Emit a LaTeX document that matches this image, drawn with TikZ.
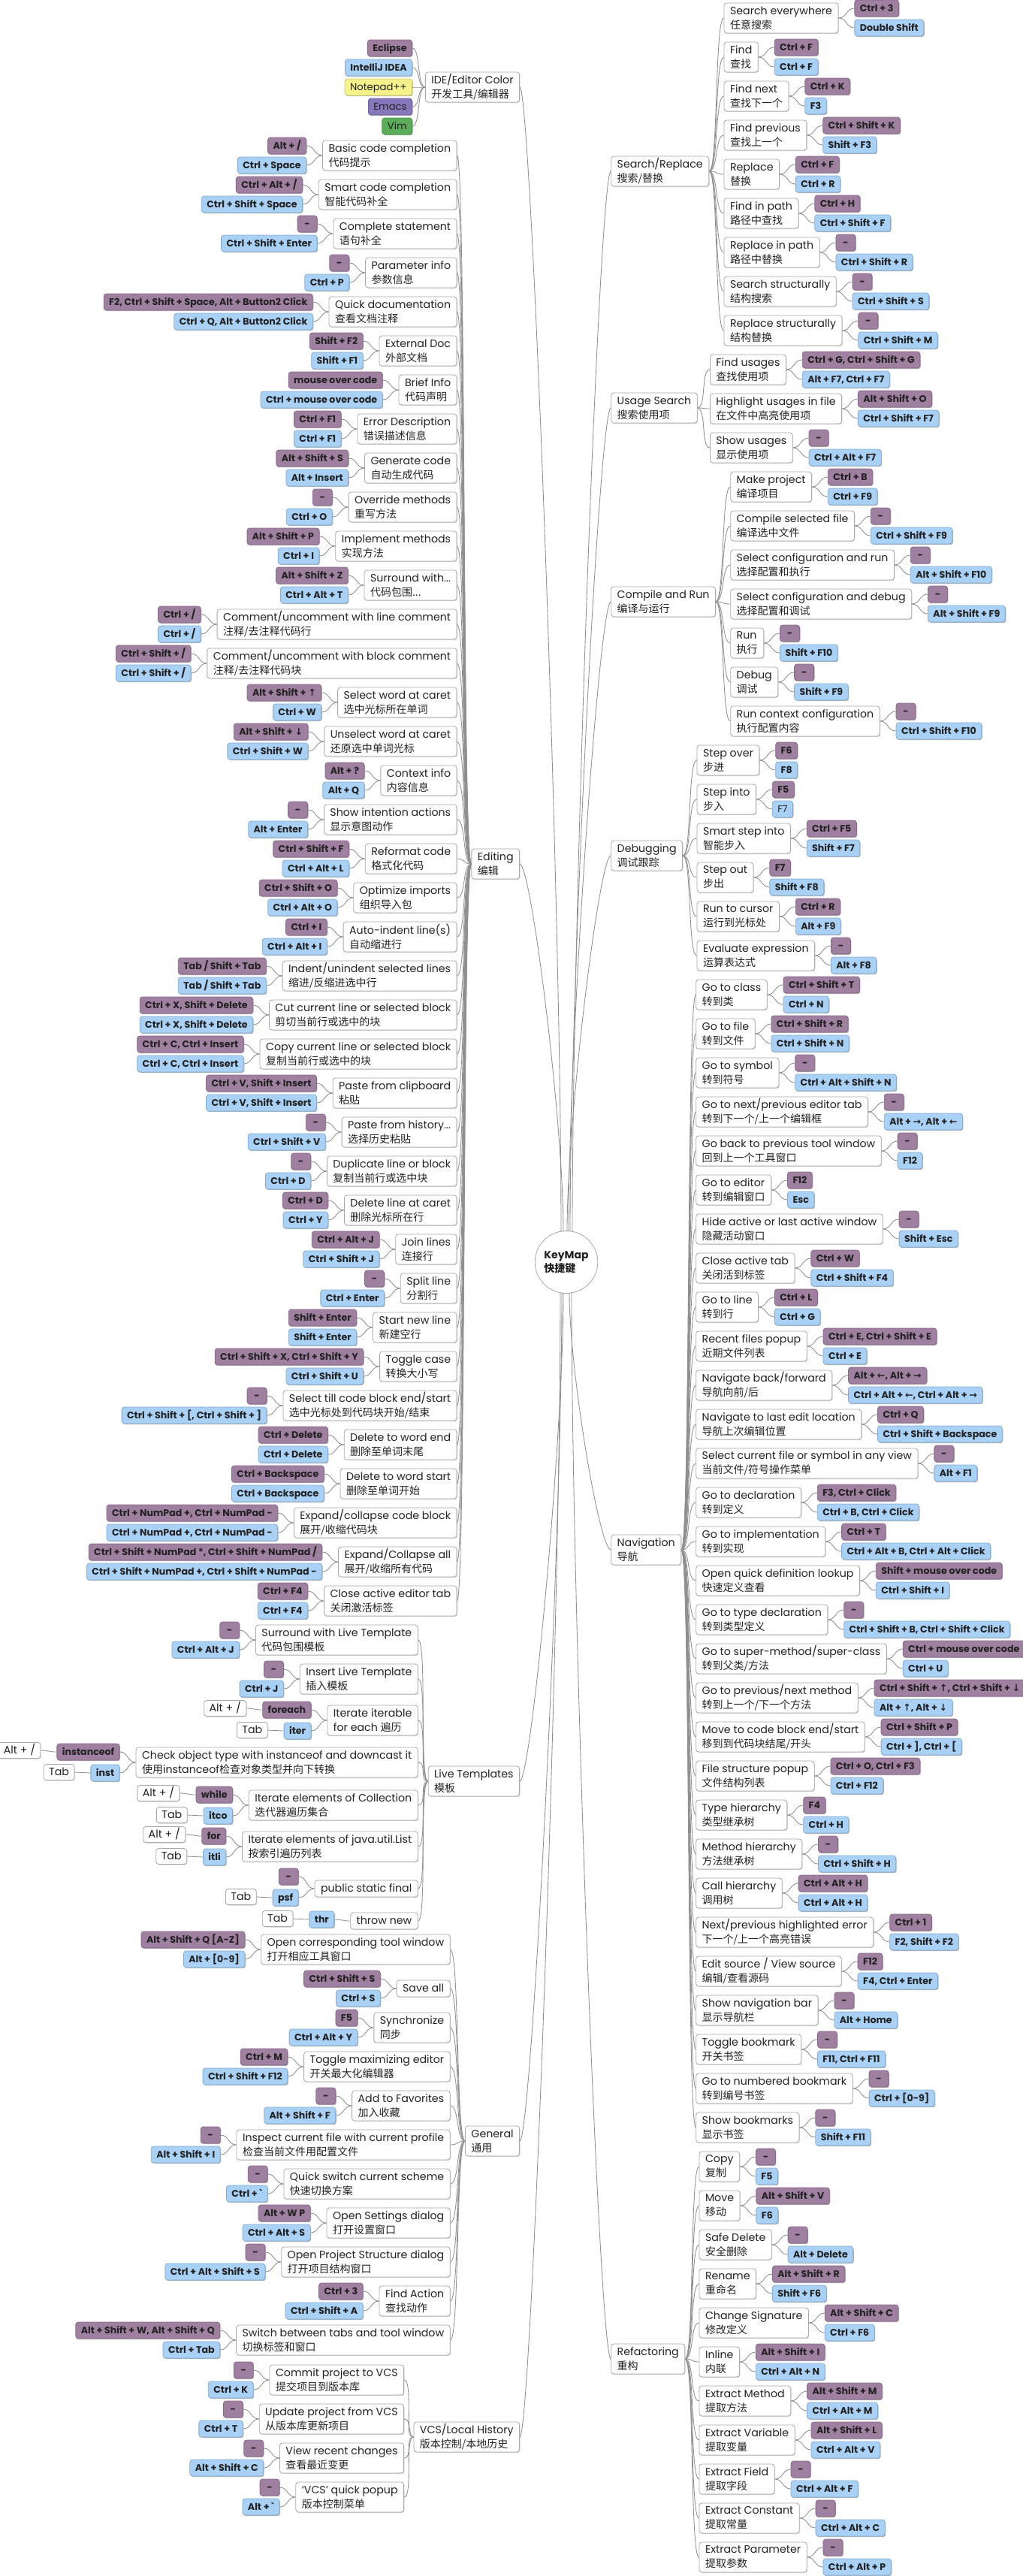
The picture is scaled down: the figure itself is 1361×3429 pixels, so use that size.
\documentclass[tikz,border=0pt]{standalone}
\usepackage{fontspec}
\setmainfont{Poppins}
\newfontfamily\cjk{Noto Sans CJK SC}
\newfontfamily\dvs{DejaVu Sans}
\usetikzlibrary{calc,shapes.geometric,shadows}
\definecolor{kpur}{HTML}{A080A0}
\definecolor{kpurd}{HTML}{86688A}
\definecolor{kblu}{HTML}{A9D0F5}
\definecolor{kblud}{HTML}{84ACD2}
\definecolor{kyel}{HTML}{F5F28C}
\definecolor{kyeld}{HTML}{CFCB6A}
\definecolor{kemc}{HTML}{8577B9}
\definecolor{kemcd}{HTML}{6A5E9E}
\definecolor{kvim}{HTML}{5CAD59}
\definecolor{kvimd}{HTML}{448F42}
\definecolor{itb}{HTML}{A8A8A8}
\definecolor{lnc}{HTML}{8F8F8F}
\definecolor{txt}{HTML}{222222}
\newcommand\itfont{\fontsize{14.2}{19}\selectfont}
\newcommand\kfont{\fontsize{12.6}{15}\selectfont\bfseries}
\newcommand\kfontr{\fontsize{13.2}{15}\selectfont}
\newcommand\zh[1]{{\cjk\fontsize{14}{19}\selectfont #1}}
\newcommand\arU{{\dvs ↑}}
\newcommand\arD{{\dvs ↓}}
\newcommand\arL{{\dvs ←}}
\newcommand\arR{{\dvs →}}
\newcommand\LX{0}
\newcommand\RX{0}
% left item: cat, name, y, en, zh, purple, blue
\newcommand{\LI}[7]{%
  \node[itm, anchor=east] (#2) at (\LX,#3) {#4\\\zh{#5}};
  \node[kp, anchor=east] (#2p) at ($(#2.west)+(-21,-13)$) {#6};
  \node[kb, anchor=east] (#2b) at ($(#2.west)+(-21,13)$) {#7};
  \draw[ln] (#2.west) .. controls +(-11,0) and +(11,0) .. (#2p.east);
  \draw[ln] (#2.west) .. controls +(-11,0) and +(11,0) .. (#2b.east);
  \draw[ln] (#2.east) .. controls +(12,0) and +(-12,0) .. (#1.west);
}
\newcommand{\LIs}[6]{%
  \node[itm1, anchor=east] (#2) at (\LX,#3) {#4};
  \node[kp, anchor=east] (#2p) at ($(#2.west)+(-21,-13)$) {#5};
  \node[kb, anchor=east] (#2b) at ($(#2.west)+(-21,13)$) {#6};
  \draw[ln] (#2.west) .. controls +(-11,0) and +(11,0) .. (#2p.east);
  \draw[ln] (#2.west) .. controls +(-11,0) and +(11,0) .. (#2b.east);
  \draw[ln] (#2.east) .. controls +(12,0) and +(-12,0) .. (#1.west);
}
% right item
\newcommand{\RI}[7]{%
  \node[itm, anchor=west] (#2) at (\RX,#3) {#4\\\zh{#5}};
  \node[kp, anchor=west] (#2p) at ($(#2.east)+(21,-13)$) {#6};
  \node[kb, anchor=west] (#2b) at ($(#2.east)+(21,13)$) {#7};
  \draw[ln] (#2.east) .. controls +(11,0) and +(-11,0) .. (#2p.west);
  \draw[ln] (#2.east) .. controls +(11,0) and +(-11,0) .. (#2b.west);
  \draw[ln] (#2.west) .. controls +(-12,0) and +(12,0) .. (#1.east);
}
% live template with white boxes
\newcommand{\LW}[6]{%
  \node[itm, anchor=east] (#1) at (\LX,#2) {#3\\#4};
  \node[kp, anchor=east] (#1p) at ($(#1.west)+(-21,-14)$) {#5};
  \node[kb, anchor=east] (#1b) at ($(#1.west)+(-21,14)$) {#6};
  \node[wk, anchor=east] (#1pw) at ($(#1p.west)+(-21,-2)$) {Alt + /};
  \node[wk, anchor=east] (#1bw) at ($(#1b.west)+(-21,-1)$) {Tab};
  \draw[ln] (#1.west) .. controls +(-11,0) and +(11,0) .. (#1p.east);
  \draw[ln] (#1.west) .. controls +(-11,0) and +(11,0) .. (#1b.east);
  \draw[ln] (#1pw.east) .. controls +(11,0) and +(-11,0) .. (#1p.west);
  \draw[ln] (#1bw.east) .. controls +(11,0) and +(-11,0) .. (#1b.west);
  \draw[ln] (#1.east) .. controls +(12,0) and +(-12,0) .. (lt.west);
}
\tikzset{
  ln/.style={draw=lnc, line width=0.85pt},
  box/.style={rounded corners=3.5pt, line width=0.8pt},
  itm/.style={box, draw=itb, fill=white, align=left, font=\itfont, text=txt, inner xsep=8pt, inner ysep=2pt, minimum height=40pt,
    drop shadow={shadow xshift=0.8pt, shadow yshift=-1pt, opacity=0.18, fill=black}},
  itm1/.style={itm, minimum height=22pt, inner ysep=1pt, text height=11pt, text depth=3pt},
  key/.style={box, font=\kfont, text=txt, inner xsep=7pt, inner ysep=0pt, minimum height=22pt, minimum width=26pt, text height=11pt, text depth=2pt,
    drop shadow={shadow xshift=1pt, shadow yshift=-1.2pt, opacity=0.3, fill=black}},
  kp/.style={key, fill=kpur, draw=kpurd},
  kb/.style={key, fill=kblu, draw=kblud},
  wk/.style={box, draw=itb, fill=white, font=\itfont, text=txt, inner xsep=7pt, inner ysep=0pt, minimum height=21pt, text height=11pt, text depth=2pt,
    drop shadow={shadow xshift=0.8pt, shadow yshift=-1pt, opacity=0.18, fill=black}},
}
\begin{document}
\begin{tikzpicture}[x=1pt,y=-1pt]
\fill[white] (0,0) rectangle (1361,3429);
\useasboundingbox (0,0) rectangle (1361,3429);

% root
\node[draw=itb, fill=white, ellipse, line width=0.8pt, minimum width=78pt, minimum height=83pt, inner sep=0pt, align=left, text=txt,
  font=\fontsize{14}{18}\selectfont\bfseries] (root) at (754,1680) {KeyMap\\{\cjk 快捷键}};

% categories
\node[itm, anchor=east, minimum width=121pt] (ide) at (692,116) {IDE/Editor Color\\\zh{开发工具/编辑器}};
\node[itm, anchor=east, minimum width=63pt] (ed) at (692,1150) {Editing\\\zh{编辑}};
\node[itm, anchor=east, minimum width=114pt] (lt) at (692,2371) {Live Templates\\\zh{模板}};
\node[itm, anchor=east, minimum width=71pt] (gen) at (692,2850) {General\\\zh{通用}};
\node[itm, anchor=east, minimum width=133pt] (vcs) at (692,3244) {VCS/Local History\\\zh{版本控制/本地历史}};
\node[itm, anchor=west, minimum width=128.6pt] (sr) at (813.3,228) {Search/Replace\\\zh{搜索/替换}};
\node[itm, anchor=west, minimum width=108.6pt] (us) at (813.3,543) {Usage Search\\\zh{搜索使用项}};
\node[itm, anchor=west, minimum width=137.3pt] (cr) at (813.3,801) {Compile and Run\\\zh{编译与运行}};
\node[itm, anchor=west, minimum width=92.5pt] (dbg) at (813.3,1139) {Debugging\\\zh{调试跟踪}};
\node[itm, anchor=west, minimum width=91.2pt] (nav) at (813.3,2063) {Navigation\\\zh{导航}};
\node[itm, anchor=west, minimum width=95.6pt] (ref) at (813.3,3140) {Refactoring\\\zh{重构}};

% root connectors
\draw[ln] (ide.east) .. controls (707,116) and (747,1183) .. (747,1640);
\draw[ln] (ed.east) .. controls (707,1150) and (750,1492) .. (750,1639);
\draw[ln] (sr.west) .. controls (798,228) and (762,1216) .. (762,1640);
\draw[ln] (us.west) .. controls (798,543) and (759,1310) .. (759,1639);
\draw[ln] (cr.west) .. controls (798,801) and (757,1388) .. (757,1639);
\draw[ln] (dbg.west) .. controls (798,1139) and (755,1489) .. (755,1639);
\draw[ln] (lt.east) .. controls (707,2371) and (750,1916) .. (750,1721);
\draw[ln] (gen.east) .. controls (707,2850) and (748,2060) .. (748,1721);
\draw[ln] (vcs.east) .. controls (707,3244) and (746,2177) .. (746,1720);
\draw[ln] (nav.west) .. controls (798,2063) and (758,1824) .. (758,1721);
\draw[ln] (ref.west) .. controls (798,3140) and (761,2146) .. (761,1720);

% IDE colors
\node[kp, anchor=east] (ik1) at (549,64) {Eclipse};
\node[kb, anchor=east] (ik2) at (549,90) {IntelliJ IDEA};
\node[key, fill=kyel, draw=kyeld, anchor=east, font=\kfontr] (ik3) at (549,116) {Notepad++};
\node[key, fill=kemc, draw=kemcd, anchor=east, font=\kfontr] (ik4) at (549,142) {Emacs};
\node[key, fill=kvim, draw=kvimd, anchor=east, font=\kfontr] (ik5) at (549,168) {Vim};
\foreach \k in {ik1,ik2,ik3,ik4,ik5}{\draw[ln] (\k.east) .. controls +(11,0) and +(-11,0) .. (ide.west);}

% Editing
\renewcommand\LX{608.5}
\LI{ed}{e1}{207}{Basic code completion}{代码提示}{Alt + /}{Ctrl + Space}
\LI{ed}{e2}{259}{Smart code completion}{智能代码补全}{Ctrl + Alt + /}{Ctrl + Shift + Space}
\LI{ed}{e3}{311}{Complete statement}{语句补全}{-}{Ctrl + Shift + Enter}
\LI{ed}{e4}{363}{Parameter info}{参数信息}{-}{Ctrl + P}
\LI{ed}{e5}{415}{Quick documentation}{查看文档注释}{F2, Ctrl + Shift + Space, Alt + Button2 Click}{Ctrl + Q, Alt + Button2 Click}
\LI{ed}{e6}{467}{External Doc}{外部文档}{Shift + F2}{Shift + F1}
\LI{ed}{e7}{519}{Brief Info}{代码声明}{mouse over code}{Ctrl + mouse over code}
\LI{ed}{e8}{571}{Error Description}{错误描述信息}{Ctrl + F1}{Ctrl + F1}
\LI{ed}{e9}{623}{Generate code}{自动生成代码}{Alt + Shift + S}{Alt + Insert}
\LI{ed}{e10}{675}{Override methods}{重写方法}{-}{Ctrl + O}
\LI{ed}{e11}{727}{Implement methods}{实现方法}{Alt + Shift + P}{Ctrl + I}
\LI{ed}{e12}{779}{Surround with...}{代码包围...}{Alt + Shift + Z}{Ctrl + Alt + T}
\LI{ed}{e13}{831}{Comment/uncomment with line comment}{注释/去注释代码行}{Ctrl + /}{Ctrl + /}
\LI{ed}{e14}{883}{Comment/uncomment with block comment}{注释/去注释代码块}{Ctrl + Shift + /}{Ctrl + Shift + /}
\LI{ed}{e15}{935}{Select word at caret}{选中光标所在单词}{Alt + Shift + \arU}{Ctrl + W}
\LI{ed}{e16}{987}{Unselect word at caret}{还原选中单词光标}{Alt + Shift + \arD}{Ctrl + Shift + W}
\LI{ed}{e17}{1039}{Context info}{内容信息}{Alt + ?}{Alt + Q}
\LI{ed}{e18}{1091}{Show intention actions}{显示意图动作}{-}{Alt + Enter}
\LI{ed}{e19}{1143}{Reformat code}{格式化代码}{Ctrl + Shift + F}{Ctrl + Alt + L}
\LI{ed}{e20}{1195}{Optimize imports}{组织导入包}{Ctrl + Shift + O}{Ctrl + Alt + O}
\LI{ed}{e21}{1247}{Auto-indent line(s)}{自动缩进行}{Ctrl + I}{Ctrl + Alt + I}
\LI{ed}{e22}{1299}{Indent/unindent selected lines}{缩进/反缩进选中行}{Tab / Shift + Tab}{Tab / Shift + Tab}
\LI{ed}{e23}{1351}{Cut current line or selected block}{剪切当前行或选中的块}{Ctrl + X, Shift + Delete}{Ctrl + X, Shift + Delete}
\LI{ed}{e24}{1403}{Copy current line or selected block}{复制当前行或选中的块}{Ctrl + C, Ctrl + Insert}{Ctrl + C, Ctrl + Insert}
\LI{ed}{e25}{1455}{Paste from clipboard}{粘贴}{Ctrl + V, Shift + Insert}{Ctrl + V, Shift + Insert}
\LI{ed}{e26}{1507}{Paste from history...}{选择历史粘贴}{-}{Ctrl + Shift + V}
\LI{ed}{e27}{1559}{Duplicate line or block}{复制当前行或选中块}{-}{Ctrl + D}
\LI{ed}{e28}{1611}{Delete line at caret}{删除光标所在行}{Ctrl + D}{Ctrl + Y}
\LI{ed}{e29}{1663}{Join lines}{连接行}{Ctrl + Alt + J}{Ctrl + Shift + J}
\LI{ed}{e30}{1715}{Split line}{分割行}{-}{Ctrl + Enter}
\LI{ed}{e31}{1767}{Start new line}{新建空行}{Shift + Enter}{Shift + Enter}
\LI{ed}{e32}{1819}{Toggle case}{转换大小写}{Ctrl + Shift + X, Ctrl + Shift + Y}{Ctrl + Shift + U}
\LI{ed}{e33}{1871}{Select till code block end/start}{选中光标处到代码块开始/结束}{-}{Ctrl + Shift + [, Ctrl + Shift + ]}
\LI{ed}{e34}{1923}{Delete to word end}{删除至单词末尾}{Ctrl + Delete}{Ctrl + Delete}
\LI{ed}{e35}{1975}{Delete to word start}{删除至单词开始}{Ctrl + Backspace}{Ctrl + Backspace}
\LI{ed}{e36}{2027}{Expand/collapse code block}{展开/收缩代码块}{Ctrl + NumPad +, Ctrl + NumPad -}{Ctrl + NumPad +, Ctrl + NumPad -}
\LI{ed}{e37}{2079}{Expand/Collapse all}{展开/收缩所有代码}{Ctrl + Shift + NumPad *, Ctrl + Shift + NumPad /}{Ctrl + Shift + NumPad +, Ctrl + Shift + NumPad -}
\LI{ed}{e38}{2131}{Close active editor tab}{关闭激活标签}{Ctrl + F4}{Ctrl + F4}

% Live Templates
\renewcommand\LX{556.7}
\LI{lt}{l1}{2183}{Surround with Live Template}{代码包围模板}{-}{Ctrl + Alt + J}
\LI{lt}{l2}{2235}{Insert Live Template}{插入模板}{-}{Ctrl + J}
\LW{l3}{2290}{Iterate iterable}{for each \zh{遍历}}{foreach}{iter}
\LW{l4}{2346}{Check object type with instanceof and downcast it}{\zh{使用}instanceof\zh{检查对象类型并向下转换}}{instanceof}{inst}
\LW{l5}{2403}{Iterate elements of Collection}{\zh{迭代器遍历集合}}{while}{itco}
\LW{l6}{2458}{Iterate elements of java.util.List}{\zh{按索引遍历列表}}{for}{itli}
\node[itm1, anchor=east] (l7) at (556.7,2514) {public static final};
\node[kp, anchor=east] (l7p) at ($(l7.west)+(-21,-16)$) {-};
\node[kb, anchor=east] (l7b) at ($(l7.west)+(-21,12)$) {psf};
\node[wk, anchor=east] (l7bw) at ($(l7b.west)+(-21,-1)$) {Tab};
\draw[ln] (l7.west) .. controls +(-11,0) and +(11,0) .. (l7p.east);
\draw[ln] (l7.west) .. controls +(-11,0) and +(11,0) .. (l7b.east);
\draw[ln] (l7bw.east) .. controls +(11,0) and +(-11,0) .. (l7b.west);
\draw[ln] (l7.east) .. controls +(12,0) and +(-12,0) .. (lt.west);
\node[itm1, anchor=east] (l8) at (556.7,2557) {throw new};
\node[kb, anchor=east] (l8b) at ($(l8.west)+(-21,-2)$) {thr};
\node[wk, anchor=east] (l8bw) at ($(l8b.west)+(-21,-1)$) {Tab};
\draw[ln] (l8.west) .. controls +(-11,0) and +(11,0) .. (l8b.east);
\draw[ln] (l8bw.east) .. controls +(11,0) and +(-11,0) .. (l8b.west);
\draw[ln] (l8.east) .. controls +(12,0) and +(-12,0) .. (lt.west);

% General
\renewcommand\LX{599.6}
\LI{gen}{g1}{2595}{Open corresponding tool window}{打开相应工具窗口}{Alt + Shift + Q [A-Z]}{Alt + [0-9]}
\LIs{gen}{g2}{2647}{Save all}{Ctrl + Shift + S}{Ctrl + S}
\LI{gen}{g3}{2699}{Synchronize}{同步}{F5}{Ctrl + Alt + Y}
\LI{gen}{g4}{2751}{Toggle maximizing editor}{开关最大化编辑器}{Ctrl + M}{Ctrl + Shift + F12}
\LI{gen}{g5}{2803}{Add to Favorites}{加入收藏}{-}{Alt + Shift + F}
\LI{gen}{g6}{2855}{Inspect current file with current profile}{检查当前文件用配置文件}{-}{Alt + Shift + I}
\LI{gen}{g7}{2907}{Quick switch current scheme}{快速切换方案}{-}{Ctrl + \textasciigrave}
\LI{gen}{g8}{2959}{Open Settings dialog}{打开设置窗口}{Alt + W P}{Ctrl + Alt + S}
\LI{gen}{g9}{3011}{Open Project Structure dialog}{打开项目结构窗口}{-}{Ctrl + Alt + Shift + S}
\LI{gen}{g10}{3063}{Find Action}{查找动作}{Ctrl + 3}{Ctrl + Shift + A}
\LI{gen}{g11}{3115}{Switch between tabs and tool window}{切换标签和窗口}{Alt + Shift + W, Alt + Shift + Q}{Ctrl + Tab}

% VCS
\renewcommand\LX{538}
\LI{vcs}{v1}{3168}{Commit project to VCS}{提交项目到版本库}{-}{Ctrl + K}
\LI{vcs}{v2}{3220}{Update project from VCS}{从版本库更新项目}{-}{Ctrl + T}
\LI{vcs}{v3}{3272}{View recent changes}{查看最近变更}{-}{Alt + Shift + C}
\LI{vcs}{v4}{3324}{`VCS' quick popup}{版本控制菜单}{-}{Alt + \textasciigrave}

% Search/Replace
\renewcommand\RX{963.6}
\RI{sr}{s1}{24}{Search everywhere}{任意搜索}{Ctrl + 3}{Double Shift}
\RI{sr}{s2}{76}{Find}{查找}{Ctrl + F}{Ctrl + F}
\RI{sr}{s3}{128}{Find next}{查找下一个}{Ctrl + K}{F3}
\RI{sr}{s4}{180}{Find previous}{查找上一个}{Ctrl + Shift + K}{Shift + F3}
\RI{sr}{s5}{232}{Replace}{替换}{Ctrl + F}{Ctrl + R}
\RI{sr}{s6}{284}{Find in path}{路径中查找}{Ctrl + H}{Ctrl + Shift + F}
\RI{sr}{s7}{336}{Replace in path}{路径中替换}{-}{Ctrl + Shift + R}
\RI{sr}{s8}{388}{Search structurally}{结构搜索}{-}{Ctrl + Shift + S}
\RI{sr}{s9}{440}{Replace structurally}{结构替换}{-}{Ctrl + Shift + M}

% Usage Search
\renewcommand\RX{945}
\RI{us}{u1}{492}{Find usages}{查找使用项}{Ctrl + G, Ctrl + Shift + G}{Alt + F7, Ctrl + F7}
\RI{us}{u2}{544}{Highlight usages in file}{在文件中高亮使用项}{Alt + Shift + O}{Ctrl + Shift + F7}
\RI{us}{u3}{596}{Show usages}{显示使用项}{-}{Ctrl + Alt + F7}

% Compile and Run
\renewcommand\RX{972.3}
\RI{cr}{c1}{648}{Make project}{编译项目}{Ctrl + B}{Ctrl + F9}
\RI{cr}{c2}{700}{Compile selected file}{编译选中文件}{-}{Ctrl + Shift + F9}
\RI{cr}{c3}{752}{Select configuration and run}{选择配置和执行}{-}{Alt + Shift + F10}
\RI{cr}{c4}{804}{Select configuration and debug}{选择配置和调试}{-}{Alt + Shift + F9}
\RI{cr}{c5}{856}{Run}{执行}{-}{Shift + F10}
\RI{cr}{c6}{908}{Debug}{调试}{-}{Shift + F9}
\RI{cr}{c7}{960}{Run context configuration}{执行配置内容}{-}{Ctrl + Shift + F10}

% Debugging
\renewcommand\RX{927.6}
\RI{dbg}{d1}{1012}{Step over}{步进}{F6}{F8}
\RI{dbg}{d2}{1064}{Step into}{步入}{F5}{\mdseries F7}
\RI{dbg}{d3}{1116}{Smart step into}{智能步入}{Ctrl + F5}{Shift + F7}
\RI{dbg}{d4}{1168}{Step out}{步出}{F7}{Shift + F8}
\RI{dbg}{d5}{1220}{Run to cursor}{运行到光标处}{Ctrl + R}{Alt + F9}
\RI{dbg}{d6}{1272}{Evaluate expression}{运算表达式}{-}{Alt + F8}

% Navigation
\renewcommand\RX{926.3}
\RI{nav}{n1}{1324}{Go to class}{转到类}{Ctrl + Shift + T}{Ctrl + N}
\RI{nav}{n2}{1376}{Go to file}{转到文件}{Ctrl + Shift + R}{Ctrl + Shift + N}
\RI{nav}{n3}{1428}{Go to symbol}{转到符号}{-}{Ctrl + Alt + Shift + N}
\RI{nav}{n4}{1480}{Go to next/previous editor tab}{转到下一个/上一个编辑框}{-}{Alt + \arR, Alt + \arL}
\RI{nav}{n5}{1532}{Go back to previous tool window}{回到上一个工具窗口}{-}{F12}
\RI{nav}{n6}{1584}{Go to editor}{转到编辑窗口}{F12}{Esc}
\RI{nav}{n7}{1636}{Hide active or last active window}{隐藏活动窗口}{-}{Shift + Esc}
\RI{nav}{n8}{1688}{Close active tab}{关闭活到标签}{Ctrl + W}{Ctrl + Shift + F4}
\RI{nav}{n9}{1740}{Go to line}{转到行}{Ctrl + L}{Ctrl + G}
\RI{nav}{n10}{1792}{Recent files popup}{近期文件列表}{Ctrl + E, Ctrl + Shift + E}{Ctrl + E}
\RI{nav}{n11}{1844}{Navigate back/forward}{导航向前/后}{Alt + \arL, Alt + \arR}{Ctrl + Alt + \arL, Ctrl + Alt + \arR}
\RI{nav}{n12}{1896}{Navigate to last edit location}{导航上次编辑位置}{Ctrl + Q}{Ctrl + Shift + Backspace}
\RI{nav}{n13}{1948}{Select current file or symbol in any view}{当前文件/符号操作菜单}{-}{Alt + F1}
\RI{nav}{n14}{2000}{Go to declaration}{转到定义}{F3, Ctrl + Click}{Ctrl + B, Ctrl + Click}
\RI{nav}{n15}{2052}{Go to implementation}{转到实现}{Ctrl + T}{Ctrl + Alt + B, Ctrl + Alt + Click}
\RI{nav}{n16}{2104}{Open quick definition lookup}{快速定义查看}{Shift + mouse over code}{Ctrl + Shift + I}
\RI{nav}{n17}{2156}{Go to type declaration}{转到类型定义}{-}{Ctrl + Shift + B, Ctrl + Shift + Click}
\RI{nav}{n18}{2208}{Go to super-method/super-class}{转到父类/方法}{Ctrl + mouse over code}{Ctrl + U}
\RI{nav}{n19}{2260}{Go to previous/next method}{转到上一个/下一个方法}{Ctrl + Shift + \arU, Ctrl + Shift + \arD}{Alt + \arU, Alt + \arD}
\RI{nav}{n20}{2312}{Move to code block end/start}{移到到代码块结尾/开头}{Ctrl + Shift + P}{Ctrl + ], Ctrl + [}
\RI{nav}{n21}{2364}{File structure popup}{文件结构列表}{Ctrl + O, Ctrl + F3}{Ctrl + F12}
\RI{nav}{n22}{2416}{Type hierarchy}{类型继承树}{F4}{Ctrl + H}
\RI{nav}{n23}{2468}{Method hierarchy}{方法继承树}{-}{Ctrl + Shift + H}
\RI{nav}{n24}{2520}{Call hierarchy}{调用树}{Ctrl + Alt + H}{Ctrl + Alt + H}
\RI{nav}{n25}{2572}{Next/previous highlighted error}{下一个/上一个高亮错误}{Ctrl + 1}{F2, Shift + F2}
\RI{nav}{n26}{2624}{Edit source / View source}{编辑/查看源码}{F12}{F4, Ctrl + Enter}
\RI{nav}{n27}{2676}{Show navigation bar}{显示导航栏}{-}{Alt + Home}
\RI{nav}{n28}{2728}{Toggle bookmark}{开关书签}{-}{F11, Ctrl + F11}
\RI{nav}{n29}{2780}{Go to numbered bookmark}{转到编号书签}{-}{Ctrl + [0-9]}
\RI{nav}{n30}{2832}{Show bookmarks}{显示书签}{-}{Shift + F11}

% Refactoring
\renewcommand\RX{930.6}
\RI{ref}{r1}{2884}{Copy}{复制}{-}{F5}
\RI{ref}{r2}{2936}{Move}{移动}{Alt + Shift + V}{F6}
\RI{ref}{r3}{2988}{Safe Delete}{安全删除}{-}{Alt + Delete}
\RI{ref}{r4}{3040}{Rename}{重命名}{Alt + Shift + R}{Shift + F6}
\RI{ref}{r5}{3092}{Change Signature}{修改定义}{Alt + Shift + C}{Ctrl + F6}
\RI{ref}{r6}{3144}{Inline}{内联}{Alt + Shift + I}{Ctrl + Alt + N}
\RI{ref}{r7}{3196}{Extract Method}{提取方法}{Alt + Shift + M}{Ctrl + Alt + M}
\RI{ref}{r8}{3248}{Extract Variable}{提取变量}{Alt + Shift + L}{Ctrl + Alt + V}
\RI{ref}{r9}{3300}{Extract Field}{提取字段}{-}{Ctrl + Alt + F}
\RI{ref}{r10}{3352}{Extract Constant}{提取常量}{-}{Ctrl + Alt + C}
\RI{ref}{r11}{3404}{Extract Parameter}{提取参数}{-}{Ctrl + Alt + P}
\end{tikzpicture}
\end{document}
